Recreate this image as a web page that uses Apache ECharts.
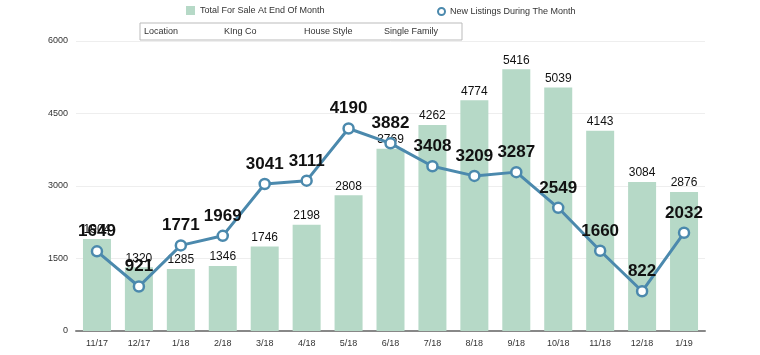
<!DOCTYPE html>
<html><head><meta charset="utf-8">
<script src="https://cdn.jsdelivr.net/npm/echarts@6/dist/echarts.min.js"></script>
<style>html,body{margin:0;padding:0;background:#fff}#c{width:760px;height:355px}</style>
</head><body><div id="c"></div>
<script>
const categories = ['11/17','12/17','1/18','2/18','3/18','4/18','5/18','6/18','7/18','8/18','9/18','10/18','11/18','12/18','1/19'];
const totalForSale = [1904,1320,1285,1346,1746,2198,2808,3769,4262,4774,5416,5039,4143,3084,2876];
const newListings = [1649,921,1771,1969,3041,3111,4190,3882,3408,3209,3287,2549,1660,822,2032];
const yTicks = [0,1500,3000,4500,6000];
const infoTexts = ['Location','KIng Co','House Style','Single Family'];

const chart = echarts.init(document.getElementById('c'));
const font = '"Liberation Sans", Arial, sans-serif';
chart.setOption({
  animation:false,
  textStyle:{fontFamily:font},
  legend:[{
    top:1, left:181,
    itemWidth:9, itemHeight:9, itemGap:6,
    textStyle:{fontSize:9,color:'#333',fontFamily:font},
    data:[{name:'Total For Sale At End Of Month',icon:'rect'}]
  },{
    top:2, left:432,
    itemWidth:7, itemHeight:7,
    textStyle:{fontSize:9,color:'#333',fontFamily:font},
    data:[{name:'New Listings During The Month',icon:'circle'}]
  }],
  grid:{left:76,right:55,top:41,bottom:24,containLabel:false},
  graphic:[
    {type:'rect',shape:{x:140,y:23,width:322,height:17},style:{fill:'#fff',stroke:'#bbb',lineWidth:1}},
    {type:'text',left:144,top:27,style:{text:infoTexts[0],fontSize:9,fill:'#333',fontFamily:font}},
    {type:'text',left:224,top:27,style:{text:infoTexts[1],fontSize:9,fill:'#333',fontFamily:font}},
    {type:'text',left:304,top:27,style:{text:infoTexts[2],fontSize:9,fill:'#333',fontFamily:font}},
    {type:'text',left:384,top:27,style:{text:infoTexts[3],fontSize:9,fill:'#333',fontFamily:font}}
  ],
  xAxis:{
    type:'category', data:categories,
    axisLine:{lineStyle:{color:'#888',width:2}},
    axisTick:{show:false},
    axisLabel:{fontSize:9,color:'#333',margin:8}
  },
  yAxis:{
    type:'value', min:yTicks[0], max:yTicks[yTicks.length-1], interval:1500,
    axisLine:{show:false}, axisTick:{show:false},
    axisLabel:{fontSize:9,color:'#333',margin:8,formatter:v=>String(v)},
    splitLine:{lineStyle:{color:'#eee'}}
  },
  series:[
    {name:'Total For Sale At End Of Month',type:'bar',data:totalForSale,barWidth:28,
     itemStyle:{color:'#b6d9c7'},
     label:{show:true,position:'top',fontSize:12,color:'#111',distance:3}},
    {name:'New Listings During The Month',type:'line',data:newListings,
     symbol:'circle',symbolSize:10,
     lineStyle:{color:'#4b89ad',width:3},
     itemStyle:{color:'#fff',borderColor:'#4b89ad',borderWidth:2.5},
     label:{show:true,position:'top',fontSize:17,fontWeight:'bold',color:'#111',distance:5}}
  ]
});
</script></body></html>
